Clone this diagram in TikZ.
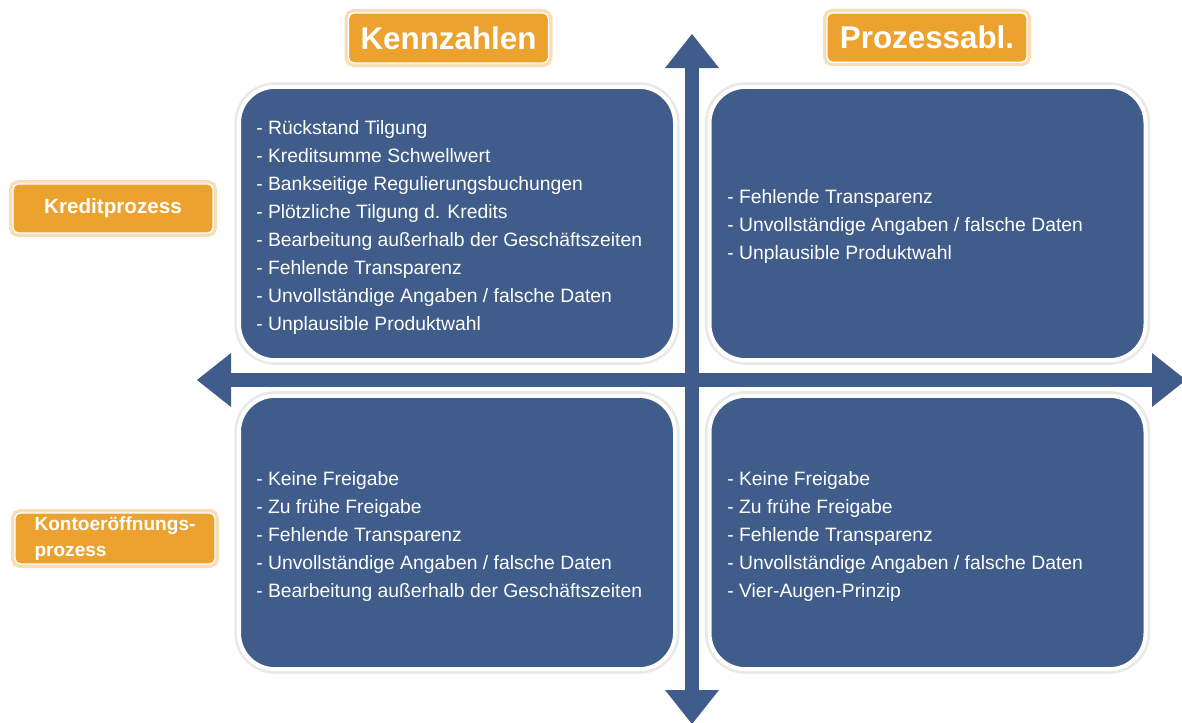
\documentclass[tikz,border=0pt]{standalone}
\usepackage{fontspec}
\setmainfont{Liberation Sans}
\usetikzlibrary{arrows.meta}
\definecolor{quadblue}{HTML}{3F5C8A}
\definecolor{tagorange}{HTML}{EBA22E}

\begin{document}
\begin{tikzpicture}[
  x=0.75pt, y=-0.75pt,
  quad/.style={draw=white, line width=3pt, fill=quadblue, rounded corners=27pt,
    minimum width=327pt, minimum height=205pt, inner sep=0pt,
    preaction={draw=black!25, line width=7pt, opacity=0.35}},
  tag/.style={draw=white, line width=1pt, fill=tagorange, rounded corners=4pt,
    text=white, inner sep=0pt, minimum width=150pt,
    preaction={draw=tagorange!35, line width=6pt}},
  item/.style={anchor=base west, text=white, inner sep=0pt,
    font=\fontsize{14.5}{17}\selectfont},
  axis/.style={draw=quadblue, line width=10.5pt,
    {Triangle[width=40.5pt,length=25.5pt,line width=0pt]}-{Triangle[width=40.5pt,length=25.5pt,line width=0pt]}}
]
\useasboundingbox (0,0) rectangle (1182,722);

% quadrants
\node[quad] (kz-kredit) at (457,223.5) {};
\node[quad] (pa-kredit) at (927.5,223.5) {};
\node[quad] (kz-konto) at (457,532.5) {};
\node[quad] (pa-konto) at (927.5,532.5) {};

% axes
\coordinate (north) at (692,34);
\coordinate (south) at (692,724);
\coordinate (west) at (197,380);
\coordinate (east) at (1186,380);
\draw[axis] (north) -- (south);
\draw[axis] (west) -- (east);

% column and row headers
\node[tag, minimum height=37.5pt, font=\bfseries\fontsize{23.5}{28}\selectfont]
  (kennzahlen) at (448.5,38) {Kennzahlen};
\node[tag, minimum height=37pt, font=\bfseries\fontsize{23.5}{28}\selectfont]
  (prozessabl) at (927,37.5) {Prozessabl.};
\node[tag, minimum height=36.75pt, font=\bfseries\fontsize{15.5}{18}\selectfont]
  (kreditprozess) at (113,208.5) {Kreditprozess};
\node[tag, minimum height=38.25pt, align=left, font=\bfseries\fontsize{14.3}{17}\selectfont]
  (kontoprozess) at (115,538.5) {Kontoeröffnungs-\\[2.5pt]prozess};

% entries
\foreach \txt [count=\i from 0] in {- Rückstand Tilgung, - Kreditsumme Schwellwert,
    - Bankseitige Regulierungsbuchungen, - Plötzliche Tilgung d. Kredits,
    - Bearbeitung außerhalb der Geschäftszeiten, - Fehlende Transparenz,
    - Unvollständige Angaben / falsche Daten, - Unplausible Produktwahl}
  \node[item] (kz-kredit-\i) at (256,134+28*\i) {\txt};
\foreach \txt [count=\i from 0] in {- Fehlende Transparenz,
    - Unvollständige Angaben / falsche Daten, - Unplausible Produktwahl}
  \node[item] (pa-kredit-\i) at (727,203+28*\i) {\txt};
\foreach \txt [count=\i from 0] in {- Keine Freigabe, - Zu frühe Freigabe,
    - Fehlende Transparenz, - Unvollständige Angaben / falsche Daten,
    - Bearbeitung außerhalb der Geschäftszeiten}
  \node[item] (kz-konto-\i) at (256,485+28*\i) {\txt};
\foreach \txt [count=\i from 0] in {- Keine Freigabe, - Zu frühe Freigabe,
    - Fehlende Transparenz, - Unvollständige Angaben / falsche Daten,
    - Vier-Augen-Prinzip}
  \node[item] (pa-konto-\i) at (727,485+28*\i) {\txt};
\end{tikzpicture}
\end{document}
